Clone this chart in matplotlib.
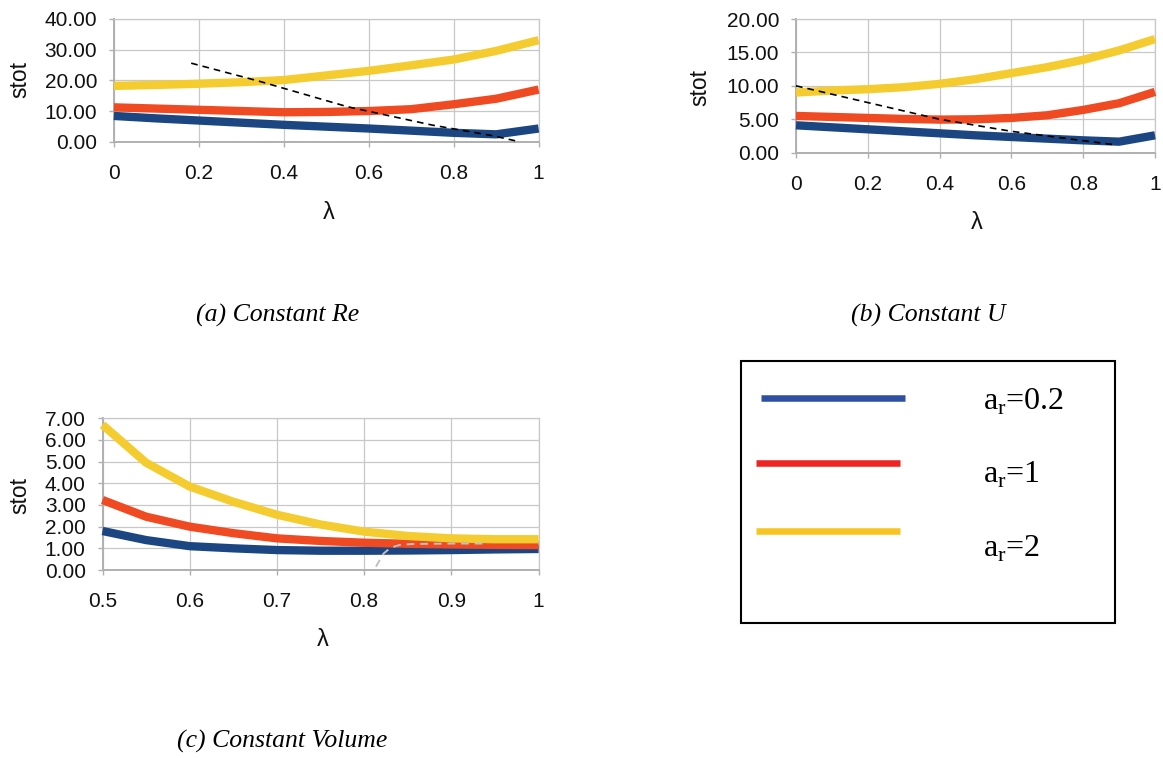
import matplotlib
matplotlib.use("Agg")
import matplotlib.pyplot as plt
from matplotlib.patches import Rectangle

# ---------------- data ----------------
lam_a = [0.0, 0.1, 0.2, 0.3, 0.4, 0.5, 0.6, 0.7, 0.8, 0.9, 1.0]
a_ar02 = [8.4, 7.6, 6.9, 6.2, 5.5, 4.9, 4.3, 3.6, 2.9, 2.4, 4.3]
a_ar1 = [11.2, 10.8, 10.4, 10.0, 9.6, 9.7, 10.0, 10.6, 12.2, 14.0, 17.0]
a_ar2 = [18.2, 18.5, 18.9, 19.4, 20.1, 21.6, 23.1, 24.9, 26.8, 29.6, 33.1]
a_dash_x = [0.182, 0.34, 0.55, 0.75, 0.89, 0.955]
a_dash_y = [25.6, 19.8, 11.4, 5.4, 2.0, 0.0]

lam_b = [0.0, 0.1, 0.2, 0.3, 0.4, 0.5, 0.6, 0.7, 0.8, 0.9, 1.0]
b_ar02 = [4.1, 3.8, 3.5, 3.2, 2.9, 2.6, 2.35, 2.1, 1.85, 1.65, 2.6]
b_ar1 = [5.5, 5.35, 5.2, 5.05, 4.95, 5.0, 5.2, 5.6, 6.4, 7.4, 9.1]
b_ar2 = [9.0, 9.3, 9.5, 9.8, 10.3, 11.0, 11.9, 12.8, 13.9, 15.3, 17.0]
b_dash_x = [0.0, 0.2, 0.4, 0.6, 0.8, 0.893]
b_dash_y = [10.0, 7.5, 5.0, 3.2, 1.8, 1.15]

lam_c = [0.5, 0.55, 0.6, 0.65, 0.7, 0.75, 0.8, 0.85, 0.9, 0.95, 1.0]
c_ar02 = [1.8, 1.38, 1.1, 1.0, 0.92, 0.89, 0.89, 0.9, 0.92, 0.95, 0.97]
c_ar1 = [3.23, 2.46, 2.0, 1.7, 1.46, 1.34, 1.26, 1.21, 1.18, 1.16, 1.15]
c_ar2 = [6.7, 4.95, 3.85, 3.15, 2.55, 2.1, 1.77, 1.57, 1.46, 1.42, 1.42]
c_dash_x = [0.8135, 0.822, 0.830, 0.840, 0.855, 0.90, 0.94]
c_dash_y = [0.15, 0.75, 1.02, 1.15, 1.20, 1.22, 1.22]

ticks_a_x = [0, 0.2, 0.4, 0.6, 0.8, 1.0]
ticklabels_a_x = ["0", "0.2", "0.4", "0.6", "0.8", "1"]
ticks_a_y = [0, 10, 20, 30, 40]
ticks_b_y = [0, 5, 10, 15, 20]
ticks_c_x = [0.5, 0.6, 0.7, 0.8, 0.9, 1.0]
ticklabels_c_x = ["0.5", "0.6", "0.7", "0.8", "0.9", "1"]
ticks_c_y = [0, 1, 2, 3, 4, 5, 6, 7]

legend_labels = ["a$_\\mathregular{r}$=0.2", "a$_\\mathregular{r}$=1", "a$_\\mathregular{r}$=2"]
captions = ["(a) Constant Re", "(b) Constant U", "(c) Constant Volume"]

# ---------------- styling ----------------
W, H = 1163, 758
DPI = 100
C_BLUE = "#1c4682"
C_RED = "#f04a22"
C_YEL = "#f5cc30"
L_BLUE = "#2f4fa2"
L_RED = "#ee2424"
L_YEL = "#f6c520"
GRID = "#c8c8c8"
AXC = "#b0b0b0"
SANS = "Liberation Sans"
SERIF = "Liberation Serif"
plt.rcParams["mathtext.fontset"] = "custom"
plt.rcParams["mathtext.rm"] = SERIF

fig = plt.figure(figsize=(W / DPI, H / DPI), dpi=DPI)
fig.patch.set_facecolor("white")


def px_axes(l, r, t, b):
    return fig.add_axes([l / W, 1 - b / H, (r - l) / W, (b - t) / H])


def fx(x):
    return x / W


def fy(y):
    return 1 - y / H


def style(ax, xlim, ylim, xt, xtl, yt):
    ax.set_xlim(*xlim)
    ax.set_ylim(*ylim)
    ax.set_xticks(xt)
    ax.set_xticklabels(xtl)
    ax.set_yticks(yt)
    ax.set_yticklabels(["%.2f" % v for v in yt])
    ax.grid(True, color=GRID, lw=0.9)
    ax.set_axisbelow(True)
    for s in ["top", "right"]:
        ax.spines[s].set_color(GRID)
        ax.spines[s].set_linewidth(0.9)
    for s in ["left", "bottom"]:
        ax.spines[s].set_color(AXC)
        ax.spines[s].set_linewidth(1.4)
    ax.tick_params(axis="both", direction="out", color=AXC, length=3.6, width=1.0,
                   labelsize=15, labelcolor="#111111")
    ax.tick_params(axis="x", pad=12.5)
    ax.tick_params(axis="y", pad=8.5)
    for lab in ax.get_xticklabels() + ax.get_yticklabels():
        lab.set_family(SANS)


def plot_lines(ax, x, ys):
    for y, c in zip(ys, [C_BLUE, C_RED, C_YEL]):
        ax.plot(x, y, color=c, lw=6.0, solid_capstyle="butt", clip_on=False, zorder=3)


# panel a
ax_a = px_axes(113.9, 538.6, 19, 141.7)
style(ax_a, (0, 1), (0, 40), ticks_a_x, ticklabels_a_x, ticks_a_y)
plot_lines(ax_a, lam_a, [a_ar02, a_ar1, a_ar2])
ax_a.plot(a_dash_x, a_dash_y, color="black", lw=1.2, ls=(0, (4, 3)), zorder=4, clip_on=False)

# panel b
ax_b = px_axes(796, 1155, 19, 152.7)
style(ax_b, (0, 1), (0, 20), ticks_a_x, ticklabels_a_x, ticks_b_y)
plot_lines(ax_b, lam_b, [b_ar02, b_ar1, b_ar2])
ax_b.plot(b_dash_x, b_dash_y, color="black", lw=1.2, ls=(0, (4, 3)), zorder=4, clip_on=False)

# panel c
ax_c = px_axes(102.5, 538.6, 418.3, 570)
style(ax_c, (0.5, 1), (0, 7), ticks_c_x, ticklabels_c_x, ticks_c_y)
plot_lines(ax_c, lam_c, [c_ar02, c_ar1, c_ar2])
ax_c.plot(c_dash_x, c_dash_y, color="#c0c0c0", lw=1.4, ls=(0, (4, 3)), zorder=4, clip_on=False)

# axis labels
for (x, y) in [(19.6, 80), (700, 88), (19.6, 495)]:
    fig.text(fx(x), fy(y), "stot", rotation=90, ha="center", va="center",
             fontsize=16.5, family=SANS, color="#111111")
for (x, y) in [(328.6, 213), (977, 223), (323, 640)]:
    fig.text(fx(x), fy(y), "λ", ha="center", va="center",
             fontsize=17, family=SANS, color="#111111")

# captions
for (x, y), txt in zip([(277.6, 315), (928, 315), (282, 741)], captions):
    fig.text(fx(x), fy(y), txt, ha="center", va="center", fontsize=18.5,
             family=SERIF, style="italic", color="black")

# legend box
fig.patches.append(Rectangle((fx(741), fy(623)), (1115 - 741) / W, (623 - 361) / H,
                             transform=fig.transFigure, fill=False, edgecolor="black",
                             lw=1.5))
leg_lines = [((761, 905), 397.7, L_BLUE), ((756, 900), 462.7, L_RED), ((756, 900), 530.7, L_YEL)]
for (x0, x1), y, c in leg_lines:
    fig.add_artist(plt.Line2D([fx(x0), fx(x1)], [fy(y), fy(y)], transform=fig.transFigure,
                              color=c, lw=4.7, solid_capstyle="butt"))
for lab, yb in zip(legend_labels, [410, 483, 556.7]):
    fig.text(fx(983), fy(yb), lab, ha="left", va="baseline", fontsize=23,
             family=SERIF, color="black")

fig.savefig("out.png", dpi=DPI)
